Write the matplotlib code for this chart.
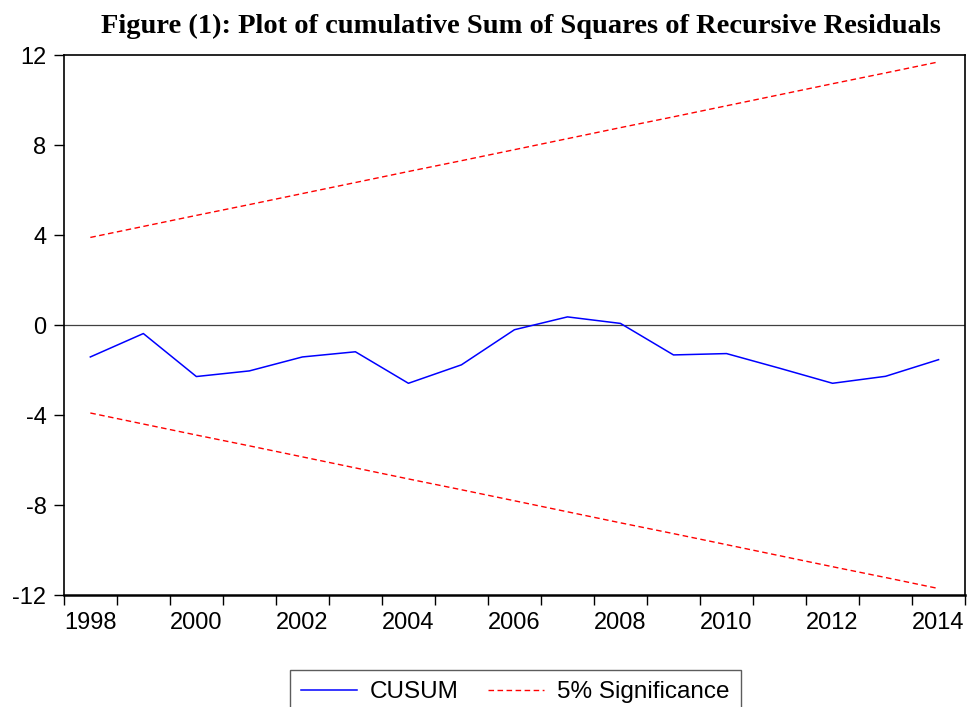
import matplotlib
matplotlib.use("Agg")
import matplotlib.pyplot as plt

# CUSUM test, annual observations
years = [1998, 1999, 2000, 2001, 2002, 2003, 2004, 2005, 2006,
         2007, 2008, 2009, 2010, 2011, 2012, 2013, 2014]
cusum = [-1.41, -0.37, -2.28, -2.03, -1.41, -1.18, -2.58, -1.76, -0.20,
         0.37, 0.08, -1.32, -1.26, -1.91, -2.58, -2.27, -1.53]
upper = [3.90, 4.39, 4.88, 5.36, 5.85, 6.34, 6.83, 7.31, 7.80,
         8.29, 8.78, 9.26, 9.75, 10.24, 10.73, 11.21, 11.70]
lower = [-v for v in upper]
y_ticks = [-12, -8, -4, 0, 4, 8, 12]
year_labels = [1998, 2000, 2002, 2004, 2006, 2008, 2010, 2012, 2014]

plt.rcParams['font.family'] = ['Liberation Sans', 'DejaVu Sans']

fig = plt.figure(figsize=(9.67, 7.07), dpi=100)
ax = fig.add_axes([0.066, 0.158, 0.932, 0.764])

# EViews puts each annual point in the middle of its year
xpos = [y + 0.5 for y in years]
ax.axhline(0, color='#404040', lw=0.9, zorder=1)
ax.plot(xpos, cusum, color='#0000ff', lw=1.1, label='CUSUM', zorder=3)
ax.plot(xpos, upper, color='#ff0000', lw=1.0, ls=(0, (4, 2.5)),
        label='5% Significance', zorder=2)
ax.plot(xpos, lower, color='#ff0000', lw=1.0, ls=(0, (4, 2.5)), zorder=2)

ax.set_xlim(years[0], years[-1] + 1)
ax.set_ylim(-12, 12)

ax.set_yticks(y_ticks)
ax.set_yticklabels([str(t) for t in y_ticks])
ax.tick_params(axis='y', direction='out', length=7.5, width=1, labelsize=17, pad=5)

ax.set_xticks(range(years[0], years[-1] + 2))
ax.set_xticklabels([])
ax.tick_params(axis='x', which='major', direction='out', length=7.5, width=1)
ax.set_xticks([y + 0.5 for y in year_labels], minor=True)
ax.set_xticklabels([str(y) for y in year_labels], minor=True)
ax.tick_params(axis='x', which='minor', length=0, labelsize=17, pad=12)

for s in ax.spines.values():
    s.set_linewidth(1.2)
    s.set_color('black')
ax.spines['bottom'].set_linewidth(1.8)

fig.text(0.539, 0.963, 'Figure (1): Plot of cumulative Sum of Squares of Recursive Residuals',
         ha='center', va='center', fontsize=20.5, fontweight='bold',
         family=['Liberation Serif', 'DejaVu Serif'])

# legend box runs off the bottom edge, as in the original export
leg = fig.legend(loc='upper center', bbox_to_anchor=(0.533, 0.052), ncol=2,
                 fontsize=17.5, frameon=True, fancybox=False, handlelength=2.3,
                 columnspacing=1.2, borderpad=0.45, handletextpad=0.55,
                 borderaxespad=0)
leg.get_frame().set_edgecolor('#333333')
leg.get_frame().set_linewidth(1.0)

fig.savefig('out.png', dpi=100)
